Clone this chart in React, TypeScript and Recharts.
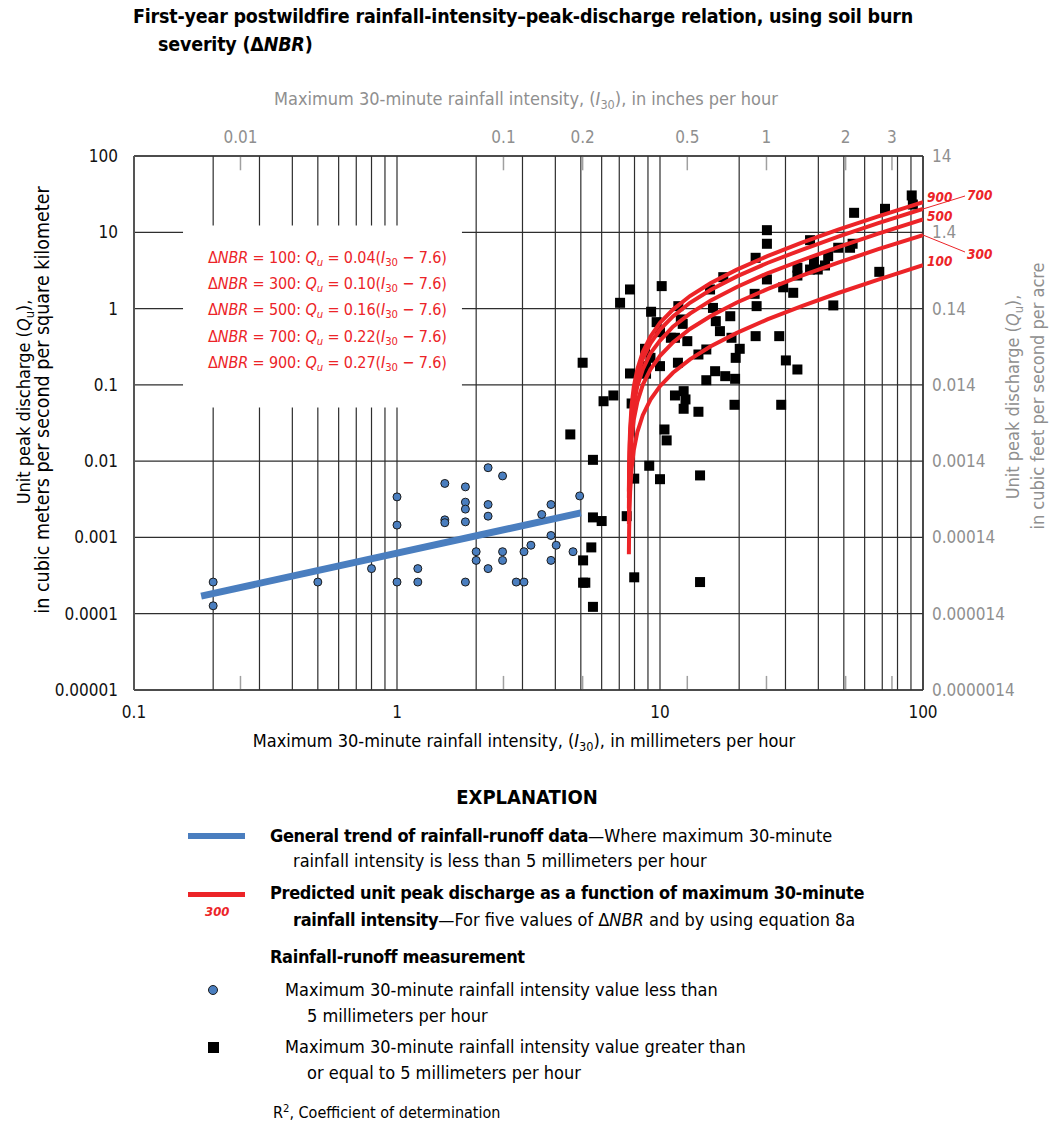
import React from 'react';
import {
  ScatterChart,
  Scatter,
  XAxis,
  YAxis,
  CartesianGrid,
  ReferenceArea,
  ReferenceLine,
} from 'recharts';

const FONT = "'Liberation Sans Narrow', 'DejaVu Sans Condensed', 'Arial Narrow', Roboto, sans-serif";
const RED = '#ec2428';
const BLUE = '#4a7ebf';
const GRAY = '#8f8f8f';

// rainfall-runoff measurements with I30 < 5 mm/h
const lowI30 = [
  0.2, 0.2, 0.5, 0.8, 1.0, 1.0, 1.0, 1.2, 1.2, 1.52, 1.52, 1.52, 1.82, 1.82, 1.82, 1.82, 1.82, 2.0, 2.0,
  2.22, 2.22, 2.22, 2.22, 2.52, 2.52, 2.52, 2.84, 3.04, 3.04, 3.23, 3.55, 3.85, 3.85, 3.85, 4.03, 4.67, 4.95,
];
const lowQu = [
  0.00026, 0.000127, 0.00026, 0.00039, 0.0034, 0.00145, 0.00026, 0.00039, 0.00026, 0.0051, 0.0017, 0.00156,
  0.0046, 0.0029, 0.00235, 0.0016, 0.00026, 0.00065, 0.0005, 0.0082, 0.0027, 0.0019, 0.00039, 0.0064,
  0.00065, 0.0005, 0.00026, 0.00065, 0.00026, 0.00079, 0.002, 0.0027, 0.00106, 0.0005, 0.00079, 0.00065, 0.0035,
];

// rainfall-runoff measurements with I30 >= 5 mm/h
const highI30 = [
  4.56, 5.56, 5.56, 6.0, 5.48, 5.1, 5.1, 5.2, 5.56, 7.47, 7.98, 7.98, 9.1, 10.0, 10.4, 10.6, 14.2, 14.2,
  5.08, 6.1, 6.65, 7.8, 7.69, 8.85, 8.85, 10.0, 11.7, 11.4, 12.3, 12.5, 12.3, 14.0, 15.0, 16.2, 17.7, 19.3, 19.2,
  7.69, 7.05, 10.15, 9.25, 9.71, 10.0, 11.0, 11.4, 11.74, 12.0, 12.2, 12.7, 8.77, 9.2, 14.0, 15.0, 15.5, 17.4,
  15.9, 16.3, 16.9, 18.5, 18.7, 20.1, 19.4, 23.1, 22.9, 23.3, 23.1, 25.5, 25.5, 25.5, 28.4, 29.4, 32.1, 30.1,
  33.3, 28.9, 33.3, 33.3, 37.2, 38.5, 37.2, 39.8, 42.4, 43.6, 45.6, 47.6, 52.8, 54.0, 54.7, 68.2, 71.7, 90.6, 91.5,
];
const highQu = [
  0.0224, 0.0104, 0.00183, 0.00164, 0.00074, 0.0005, 0.000255, 0.000255, 0.000123, 0.0019, 0.0059, 0.0003,
  0.0087, 0.0058, 0.026, 0.0187, 0.0065, 0.00026,
  0.195, 0.061, 0.0726, 0.057, 0.141, 0.176, 0.14, 0.176, 0.195, 0.0726, 0.0827, 0.0644, 0.0486, 0.0444, 0.115,
  0.151, 0.13, 0.12, 0.0548,
  1.78, 1.19, 1.97, 0.908, 0.664, 0.491, 0.414, 0.414, 1.076, 0.72, 0.63, 0.374, 0.297, 0.226, 0.25, 0.291, 1.78,
  2.58, 1.02, 0.684, 0.506, 0.794, 0.414, 0.297, 0.226, 4.63, 1.56, 1.076, 0.435, 10.66, 7.07, 2.41, 0.435, 1.9,
  1.61, 0.209, 0.159, 0.0548, 3.43, 2.71, 7.88, 4.18, 3.25, 3.25, 3.67, 4.86, 1.1, 6.27, 6.27, 7.07, 18.0, 3.03,
  20.3, 30.4, 23.1,
];

// general trend line (I30 < 5 mm/h)
const trendI30 = [0.18, 5.0];
const trendQu = [0.00017, 0.0021];

// predicted unit peak discharge curves, one per dNBR value
const curveI30 = [7.615, 7.63, 7.66, 7.7, 7.8, 7.95, 8.2, 8.6, 9.2, 10, 11.2, 13, 15.6, 19.6, 25.6, 34.6, 47.6, 67.6, 100];
const qu100 = [0.0006, 0.0012, 0.0024, 0.004, 0.008, 0.014, 0.024, 0.04, 0.064, 0.096, 0.144, 0.216, 0.32, 0.48, 0.72, 1.08, 1.6, 2.4, 3.7];
const qu300 = [0.0015, 0.003, 0.006, 0.01, 0.02, 0.035, 0.06, 0.1, 0.16, 0.24, 0.36, 0.54, 0.8, 1.2, 1.8, 2.7, 4.0, 6.0, 9.2];
const qu500 = [0.0024, 0.0048, 0.0096, 0.016, 0.032, 0.056, 0.096, 0.16, 0.26, 0.38, 0.58, 0.86, 1.28, 1.92, 2.9, 4.3, 6.4, 9.6, 14.8];
const qu700 = [0.0033, 0.0066, 0.013, 0.022, 0.044, 0.077, 0.13, 0.22, 0.35, 0.53, 0.79, 1.19, 1.76, 2.64, 3.96, 5.9, 8.8, 13.2, 20.3];
const qu900 = [0.004, 0.0081, 0.016, 0.027, 0.054, 0.095, 0.16, 0.27, 0.43, 0.65, 0.97, 1.46, 2.16, 3.24, 4.86, 7.3, 10.8, 16.2, 24.9];

const dnbrValues = ['100', '300', '500', '700', '900'];
const coefficients = ['0.04', '0.10', '0.16', '0.22', '0.27'];

// axes
const xGridTicks = [
  0.1, 0.2, 0.3, 0.4, 0.5, 0.6, 0.7, 0.8, 0.9, 1, 2, 3, 4, 5, 6, 7, 8, 9, 10, 20, 30, 40, 50, 60, 70, 80, 90, 100,
];
const xDecades = [0.1, 1, 10, 100];
const xDecadeLabels = ['0.1', '1', '10', '100'];
const inchTicks = [0.254, 2.54, 5.08, 12.7, 25.4, 50.8, 76.2];
const inchLabels = ['0.01', '0.1', '0.2', '0.5', '1', '2', '3'];
const yTicks = [0.00001, 0.0001, 0.001, 0.01, 0.1, 1, 10, 100];
const yLabels = ['0.00001', '0.0001', '0.001', '0.01', '0.1', '1', '10', '100'];
const yRightLabels = ['0.0000014', '0.000014', '0.00014', '0.0014', '0.014', '0.14', '1.4', '14'];

const toPoints = (xs: number[], ys: number[]) => xs.map((x, i) => ({ x, y: ys[i] }));

const Square = (p: any) => <rect x={p.cx - 5} y={p.cy - 5} width={10} height={10} fill="#000" />;
const Dot = (p: any) => <circle cx={p.cx} cy={p.cy} r={4} fill={BLUE} stroke="#1b1b1b" strokeWidth={1} />;
const NoShape = () => <g />;

function T({
  x,
  y,
  size = 18,
  color = '#000',
  bold = false,
  italic = false,
  center = false,
  spacing = 0,
  children,
}: {
  x: number;
  y: number;
  size?: number;
  color?: string;
  bold?: boolean;
  italic?: boolean;
  center?: boolean;
  spacing?: number;
  children: React.ReactNode;
}) {
  return (
    <div
      style={{
        position: 'absolute',
        left: x,
        top: y,
        transform: center ? 'translate(-50%, -50%)' : 'translateY(-50%)',
        fontSize: size,
        color,
        fontWeight: bold ? 700 : 400,
        fontStyle: italic ? 'italic' : 'normal',
        letterSpacing: spacing,
        whiteSpace: 'nowrap',
        lineHeight: 1.2,
      }}
    >
      {children}
    </div>
  );
}

function VT({ x, y, size = 18, color = '#000', children }: { x: number; y: number; size?: number; color?: string; children: React.ReactNode }) {
  return (
    <div
      style={{
        position: 'absolute',
        left: x,
        top: y,
        transform: 'translate(-50%, -50%) rotate(-90deg)',
        fontSize: size,
        color,
        whiteSpace: 'nowrap',
        lineHeight: 1.2,
      }}
    >
      {children}
    </div>
  );
}

const sub = (s: string) => <sub style={{ fontSize: '0.7em', verticalAlign: '-0.25em' }}>{s}</sub>;
const B = ({ children }: { children: React.ReactNode }) => (
  <b style={{ letterSpacing: -0.35 }}>{children}</b>
);

export default function App() {
  const curves = [qu100, qu300, qu500, qu700, qu900];

  return (
    <div style={{ position: 'absolute', left: 0, top: 0, width: 1052, height: 1128, fontFamily: FONT, background: '#fff' }}>
      <ScatterChart width={1052} height={760} margin={{ top: 116, right: 29, bottom: 30, left: 8 }}>
        <CartesianGrid stroke="#2e2e2e" strokeWidth={1.2} />
        <XAxis
          type="number"
          dataKey="x"
          scale="log"
          domain={[0.1, 100]}
          ticks={xGridTicks}
          interval={0}
          allowDataOverflow
          tickFormatter={(v: number) => {
            const i = xDecades.indexOf(v);
            return i >= 0 ? xDecadeLabels[i] : '';
          }}
          tick={{ fontSize: 17, fill: '#111' }}
          tickLine={false}
          tickSize={0}
          tickMargin={16}
          axisLine={{ stroke: '#333', strokeWidth: 1.5 }}
          height={40}
        />
        <XAxis
          xAxisId="top"
          orientation="top"
          type="number"
          dataKey="x"
          scale="log"
          domain={[0.1, 100]}
          ticks={inchTicks}
          interval={0}
          allowDataOverflow
          tickFormatter={(v: number) => inchLabels[inchTicks.indexOf(v)]}
          tick={{ fontSize: 17, fill: GRAY }}
          tickLine={false}
          tickSize={0}
          tickMargin={13}
          axisLine={{ stroke: '#333', strokeWidth: 1.5 }}
          height={40}
        />
        <YAxis
          type="number"
          dataKey="y"
          scale="log"
          domain={[0.00001, 100]}
          ticks={yTicks}
          interval={0}
          allowDataOverflow
          tickFormatter={(v: number) => yLabels[yTicks.indexOf(v)]}
          tick={{ fontSize: 17, fill: '#111' }}
          tickLine={false}
          tickSize={0}
          tickMargin={16}
          axisLine={{ stroke: '#555', strokeWidth: 2 }}
          width={126}
        />
        <YAxis
          yAxisId="right"
          orientation="right"
          type="number"
          dataKey="y"
          scale="log"
          domain={[0.00001, 100]}
          ticks={yTicks}
          interval={0}
          allowDataOverflow
          tickFormatter={(v: number) => yRightLabels[yTicks.indexOf(v)]}
          tick={{ fontSize: 17, fill: GRAY, textAnchor: 'start' }}
          tickLine={false}
          tickSize={0}
          tickMargin={9}
          axisLine={{ stroke: '#333', strokeWidth: 1.5 }}
          width={100}
        />
        <ReferenceArea x1={0.1536} x2={1.766} y1={0.0506} y2={12.3} fill="#fff" fillOpacity={1} stroke="none" ifOverflow="hidden" />
        {inchTicks.map((v) => (
          <ReferenceLine
            key={'t' + v}
            xAxisId="top"
            yAxisId="right"
            segment={[
              { x: v, y: 100 },
              { x: v, y: 65 },
            ]}
            stroke="#a0a0a0"
            strokeWidth={1.5}
          />
        ))}
        {inchTicks.map((v) => (
          <ReferenceLine
            key={'b' + v}
            xAxisId="top"
            yAxisId="right"
            segment={[
              { x: v, y: 0.00001 },
              { x: v, y: 0.0000153 },
            ]}
            stroke="#a0a0a0"
            strokeWidth={1.5}
          />
        ))}
        <Scatter
          data={toPoints(trendI30, trendQu)}
          line={{ stroke: BLUE, strokeWidth: 7 }}
          lineType="joint"
          shape={NoShape}
          isAnimationActive={false}
        />
        <Scatter data={toPoints(lowI30, lowQu)} shape={Dot} isAnimationActive={false} />
        <Scatter data={toPoints(highI30, highQu)} shape={Square} isAnimationActive={false} />
        {curves.map((c, i) => (
          <Scatter
            key={dnbrValues[i]}
            data={toPoints(curveI30, c)}
            line={{ stroke: RED, strokeWidth: 4 }}
            lineType="joint"
            shape={NoShape}
            isAnimationActive={false}
          />
        ))}
      </ScatterChart>

      {/* title */}
      <T x={133} y={17} size={19.5} bold spacing={-0.2}>
        First-year postwildfire rainfall-intensity–peak-discharge relation, using soil burn
      </T>
      <T x={158} y={45} size={19.5} bold spacing={-0.2}>
        severity (Δ<i>NBR</i>)
      </T>

      {/* axis titles */}
      <T x={526} y={100} size={18} color={GRAY} center>
        Maximum 30-minute rainfall intensity, (<i>I</i>
        {sub('30')}), in inches per hour
      </T>
      <T x={524} y={742} size={18} center>
        Maximum 30-minute rainfall intensity, (<i>I</i>
        {sub('30')}), in millimeters per hour
      </T>
      <VT x={25} y={402}>
        Unit peak discharge (<i>Q</i>
        {sub('u')}),
      </VT>
      <VT x={43} y={400} size={19.5}>
        in cubic meters per second per square kilometer
      </VT>
      <VT x={1014} y={397} color={GRAY}>
        Unit peak discharge (<i>Q</i>
        {sub('u')}),
      </VT>
      <VT x={1038} y={396} color={GRAY}>
        in cubic feet per second per acre
      </VT>

      {/* equations */}
      {dnbrValues.map((d, i) => (
        <T key={d} x={208} y={259 + i * 26.2} size={16} color={RED} spacing={-0.1}>
          Δ<i>NBR</i> = {d}: <i>Q</i>
          <i>{sub('u')}</i> = {coefficients[i]}(<i>I</i>
          {sub('30')} − 7.6)
        </T>
      ))}

      {/* curve labels */}
      <T x={927} y={197} size={13.5} color={RED} bold italic>900</T>
      <T x={967} y={195} size={13.5} color={RED} bold italic>700</T>
      <T x={927} y={216} size={13.5} color={RED} bold italic>500</T>
      <T x={967} y={254} size={13.5} color={RED} bold italic>300</T>
      <T x={927} y={261} size={13.5} color={RED} bold italic>100</T>
      <svg style={{ position: 'absolute', left: 0, top: 0 }} width={1052} height={760}>
        <line x1={923} y1={209} x2={965} y2={196} stroke={RED} strokeWidth={1} />
        <line x1={923} y1={235} x2={965} y2={252} stroke={RED} strokeWidth={1} />
      </svg>

      {/* explanation */}
      <T x={527} y={797} size={20} bold center>
        EXPLANATION
      </T>
      <div style={{ position: 'absolute', left: 188, top: 833, width: 57, height: 6, background: BLUE }} />
      <T x={270} y={836}>
        <B>General trend of rainfall-runoff data</B>—Where maximum 30-minute
      </T>
      <T x={293} y={861}>rainfall intensity is less than 5 millimeters per hour</T>
      <div style={{ position: 'absolute', left: 188, top: 892, width: 57, height: 5, background: RED }} />
      <T x={205} y={912} size={13} color={RED} bold italic>
        300
      </T>
      <T x={270} y={893}>
        <B>Predicted unit peak discharge as a function of maximum 30-minute</B>
      </T>
      <T x={293} y={920}>
        <B>rainfall intensity</B>—For five values of Δ<i>NBR</i> and by using equation 8a
      </T>
      <T x={270} y={957}>
        <B>Rainfall-runoff measurement</B>
      </T>
      <div
        style={{
          position: 'absolute',
          left: 208,
          top: 985,
          width: 8,
          height: 8,
          borderRadius: '50%',
          background: BLUE,
          border: '1px solid #1b1b1b',
        }}
      />
      <T x={285} y={990}>Maximum 30-minute rainfall intensity value less than</T>
      <T x={307} y={1016}>5 millimeters per hour</T>
      <div style={{ position: 'absolute', left: 208, top: 1042, width: 11, height: 11, background: '#000' }} />
      <T x={285} y={1047}>Maximum 30-minute rainfall intensity value greater than</T>
      <T x={307} y={1073}>or equal to 5 millimeters per hour</T>
      <T x={273} y={1112} size={16}>
        R<sup style={{ fontSize: '0.7em' }}>2</sup>, Coefficient of determination
      </T>
    </div>
  );
}
